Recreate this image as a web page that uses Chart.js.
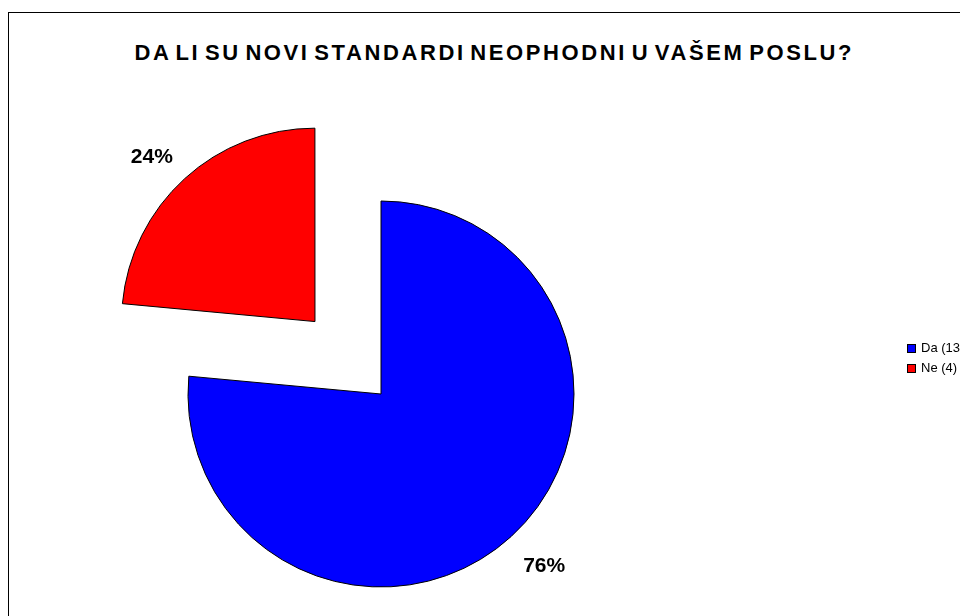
<!DOCTYPE html>
<html>
<head>
<meta charset="utf-8">
<title>DA LI SU NOVI STANDARDI NEOPHODNI U VAŠEM POSLU?</title>
<script src="https://cdn.jsdelivr.net/npm/chart.js@4.4.0/dist/chart.umd.min.js"></script>
<style>
  html, body { margin: 0; padding: 0; background: #fff; overflow: hidden; }
  body { width: 960px; height: 616px; position: relative; font-family: "Liberation Sans", Arial, sans-serif; }
  .frame { position: absolute; left: 8px; top: 12px; width: 1200px; height: 900px; border: 1px solid #000; }
  .title {
    position: absolute; left: 0; top: 42px; width: 986px;
    text-align: center; font-weight: bold; font-size: 22px; line-height: 22px;
    letter-spacing: 2.6px; word-spacing: -4px; padding-left: 2.6px; box-sizing: border-box; white-space: nowrap;
  }
  #chart { position: absolute; left: 0; top: 0; }
  .legend { position: absolute; left: 907px; top: 338px; margin: 0; padding: 0; list-style: none; font-size: 13px; white-space: nowrap; }
  .legend li { height: 20px; line-height: 20px; display: flex; align-items: center; }
  .legend .key { width: 7px; height: 7px; border: 1px solid #000; margin-right: 5px; flex: none; }
</style>
</head>
<body>
<div class="frame"></div>
<div class="title">DA LI SU NOVI STANDARDI NEOPHODNI U VAŠEM POSLU?</div>
<canvas id="chart" width="960" height="616"></canvas>
<ul class="legend" id="legend"></ul>
<script>
// Data
const categories = ["Da", "Ne"];
const counts = [13, 4];
const legendLabels = categories.map((c, i) => `${c} (${counts[i]})`);

// percentages written outside each slice, box corner touching the anchor
const percentLabels = {
  id: "percentLabels",
  afterDatasetsDraw(chart) {
    const meta = chart.getDatasetMeta(0);
    const total = counts.reduce((a, b) => a + b, 0);
    const ctx = chart.ctx;
    ctx.save();
    ctx.font = "bold 21px 'Liberation Sans', Arial, sans-serif";
    ctx.fillStyle = "#000";
    ctx.textAlign = "center";
    ctx.textBaseline = "middle";
    meta.data.forEach((arc, i) => {
      const { x, y, startAngle, endAngle, outerRadius } = arc.getProps(
        ["x", "y", "startAngle", "endAngle", "outerRadius"],
        true
      );
      const mid = (startAngle + endAngle) / 2;
      const cos = Math.cos(mid);
      const sin = Math.sin(mid);
      const dist = outerRadius + (arc.options.offset || 0) / 4 + 18;
      const pct = Math.round((counts[i] / total) * 100) + "%";
      const halfW = ctx.measureText(pct).width / 2;
      const lx = x + cos * dist + Math.sign(cos) * halfW;
      const ly = y + sin * dist + Math.sign(sin) * 12 + 4;
      ctx.fillText(pct, lx, ly);
    });
    ctx.restore();
  },
};

function renderLegend(chart) {
  const list = document.getElementById("legend");
  list.innerHTML = "";
  const items = chart.options.plugins.legend.labels.generateLabels(chart);
  items.forEach((item) => {
    const li = document.createElement("li");
    const key = document.createElement("span");
    key.className = "key";
    key.style.background = item.fillStyle;
    const text = document.createElement("span");
    text.textContent = item.text;
    li.appendChild(key);
    li.appendChild(text);
    list.appendChild(li);
  });
}

const ctx = document.getElementById("chart").getContext("2d");
const chart = new Chart(ctx, {
  type: "pie",
  data: {
    labels: legendLabels,
    datasets: [
      {
        data: counts,
        backgroundColor: ["#0000FF", "#FF0000"],
        borderColor: "#000000",
        borderWidth: 1,
        offset: [0, 392],
        clip: false,
      },
    ],
  },
  options: {
    responsive: false,
    animation: false,
    events: [],
    radius: 193,
    layout: { padding: { left: 0, right: 198, top: 172, bottom: 0 } },
    plugins: {
      legend: { display: false },
      title: { display: false },
      tooltip: { enabled: false },
    },
  },
  plugins: [percentLabels],
});

renderLegend(chart);
</script>
</body>
</html>
